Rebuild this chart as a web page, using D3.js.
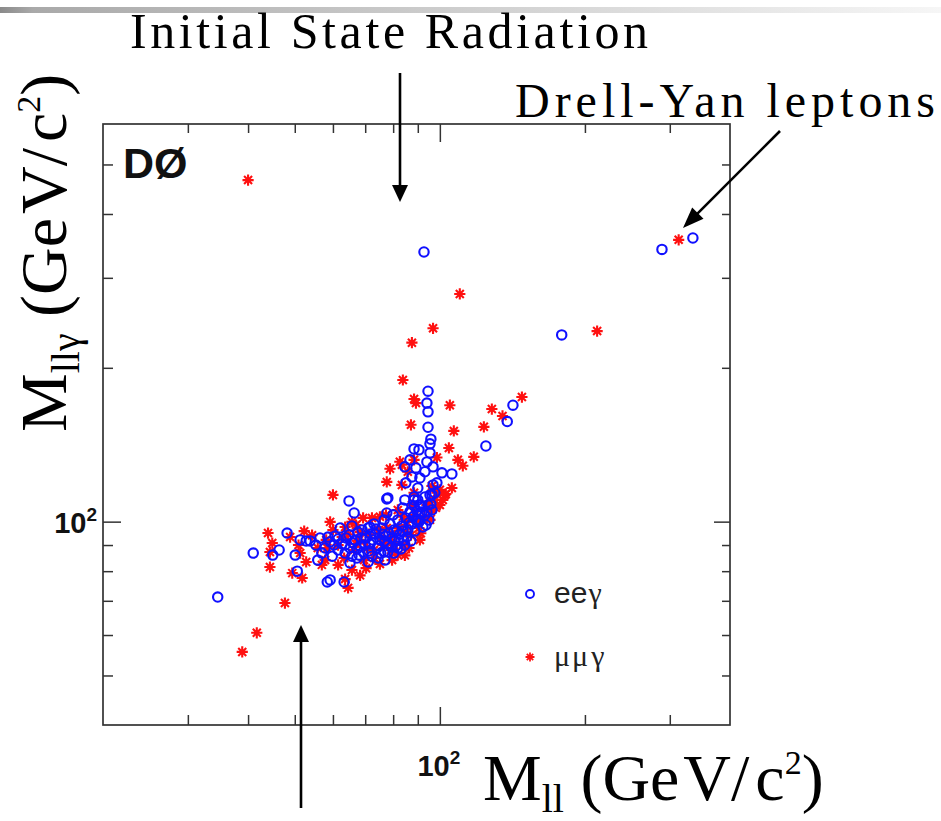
<!DOCTYPE html>
<html>
<head>
<meta charset="utf-8">
<script src="https://cdn.jsdelivr.net/npm/d3@7"></script>
<style>
  html, body { margin: 0; padding: 0; background: #fff; }
  svg { display: block; }
</style>
</head>
<body>
<svg id="chart" width="941" height="821"></svg>
<script>
// Dilepton mass M_ll vs three-body mass M_llγ (GeV/c^2), DØ Zγ candidates

// ee-gamma candidates
const eeMll = [
  92.7, 335, 289, 179, 141.8, 138, 124.6, 34.6,
  94.5, 94.0, 94.5, 94.5, 95.8, 95.4,
  90.5, 95.4, 94.0, 96.8, 101, 105.9, 98.6, 97.6, 95.4, 90.0, 90.9, 93.1, 89.2, 86.7,
  84.6, 87.5, 85.0, 78.0, 84.6, 88.4, 88.4, 96.8, 96.3, 94.5, 96.3, 93.1, 77.6,
  64.8, 66.4, 77.6, 71.6, 88.4, 90.9, 90.0, 91.8, 93.6,
  41.0, 45.0, 46.4, 48.2, 50.1, 50.6, 58.4, 63.3, 52.8,
  53.8, 55.3, 56.4, 57.8, 59.2, 60.6, 61.5, 62.7, 63.9, 65.1, 65.7, 66.7, 67.6, 68.3,
  69.3, 70.3, 71.0, 71.6, 72.3, 73.4, 74.1, 75.1, 75.8, 76.6, 77.3, 78.0, 78.8, 79.6,
  80.3, 81.1, 81.8, 82.6, 83.4, 84.2, 85.0, 85.8, 86.7, 87.5, 88.4, 89.2, 90.0, 90.9,
  63.6, 67.3, 71.0, 74.4, 78.0, 81.8, 59.8, 56.9, 69.0, 73.0, 76.6, 80.0, 83.8,
  51.3, 55.8, 62.1, 65.7, 59.2, 65.1, 76.9,
  63.6, 64.8, 66.0, 67.3, 68.6, 69.9, 71.3, 72.6, 73.7, 74.7, 75.4, 76.9, 78.4, 79.2,
  80.7, 81.4, 82.2, 83.0, 83.8, 84.6, 85.4, 86.3, 87.1, 88.0, 88.8, 89.6, 90.5, 91.3,
  92.2, 93.1, 94.0, 94.9, 95.8, 60.3, 58.6, 61.5, 71.9, 76.2, 68.0, 80.3
];
const eeMllg = [
  337, 359, 341, 232, 169, 157, 140.6, 71.2,
  180, 170.6, 164, 153, 145, 142,
  138.2, 136.3, 130.9, 128.0, 124.6, 124.0, 119.1, 113.9, 112.8, 116.4, 121.8, 125.2, 127.4, 132.1,
  128.0, 122.3, 119.1, 111.3, 110.3, 110.3, 138.8, 118.0, 112.8, 107.8, 105.4, 103.0, 110.8,
  109.8, 104.0, 104.0, 97.6, 111.8, 107.8, 100.8, 104.5, 98.5,
  86.8, 86.0, 88.0, 95.0, 86.0, 80.0, 76.2, 76.2, 91.7,
  91.7, 90.0, 92.9, 88.8, 91.3, 93.7, 88.0, 90.4, 92.9, 88.8, 85.6, 92.1, 95.4, 89.6,
  87.2, 92.9, 97.2, 90.4, 85.6, 94.5, 88.8, 92.1, 97.2, 87.2, 93.7, 90.4, 99.0, 92.9,
  96.3, 89.6, 100.8, 94.5, 98.1, 92.1, 101.7, 96.3, 104.5, 99.0, 107.3, 100.8, 110.3, 103.6,
  86.8, 84.9, 83.4, 84.9, 87.2, 88.8, 85.6, 86.8, 96.3, 99.0, 100.8, 103.1, 106.4,
  92.1, 84.1, 97.2, 98.1, 76.9, 83.0, 84.1,
  90.0, 94.2, 90.9, 88.4, 92.9, 90.0, 87.6, 92.1, 96.7, 89.6, 86.8, 91.7, 94.9, 89.2,
  91.7, 95.9, 92.1, 88.4, 95.9, 90.0, 93.3, 99.5, 91.7, 102.2, 95.9, 104.9, 99.9, 106.9,
  97.6, 111.8, 104.5, 100.8, 108.3, 90.0, 93.3, 92.5, 94.5, 94.5, 86.0, 86.8
];

// mu-mu-gamma candidates
const mmMll = [
  40.0, 110, 96.8, 87.5, 83.8, 313, 212, 148, 128.2, 134.9,
  88.4, 89.2, 104.9, 87.1, 106.9, 123.4, 104.4, 117.6, 109, 111.6,
  88.4, 78.8, 83.4, 77.6, 83.4, 98.6, 96.3, 100, 102.9, 105.9,
  88.4, 95.4, 83.8, 95.4, 60.0, 65.7, 69.3, 75.1, 82.6, 85.8, 98.6,
  44.0, 44.9, 44.4, 44.4, 50.9, 52.3, 52.8, 49.4, 51.8, 56.9, 47.7, 41.7, 38.9, 64.5, 63.6,
  54.3, 55.8, 58.1, 60.0, 61.5, 63.3, 64.5, 66.4, 68.0, 69.6, 71.3, 73.0, 74.7, 76.2,
  77.6, 79.2, 80.7, 82.2, 83.8, 85.4, 87.1, 88.8, 90.5, 92.2, 94.0, 95.8, 97.6, 100, 102.4,
  61.5, 65.7, 70.3, 75.1, 79.6, 84.6, 67.0, 72.3, 77.3, 81.8, 87.5,
  57.8, 68.3, 63.6, 59.2, 51.3, 48.9, 81.8, 90.9,
  62.7, 67.0, 70.6, 75.4, 80.3, 85.0, 89.6, 68.3, 78.4, 73.0, 86.3, 58.4, 91.3, 98.1, 101.4
];
const mmMllg = [
  466, 279, 239, 224, 189.3, 356, 236, 175.3, 166.1, 161,
  173.8, 170.6, 169.0, 154.7, 150.5, 153.3, 139.4, 133.9, 132.1, 128.6,
  132.1, 126.9, 129.2, 119.6, 118.0, 133.5, 117.4, 115.4, 113.3, 116.4,
  113.9, 109.3, 102.2, 100.8, 112.8, 99.9, 101.7, 102.2, 131, 125.2, 113.9,
  95.0, 90.8, 87.2, 81.5, 90.0, 95.8, 83.4, 79.3, 77.6, 82.3, 69.3, 60.6, 55.6, 74.2, 77.2,
  94.1, 88.8, 92.1, 96.3, 90.0, 84.9, 94.5, 88.0, 92.1, 84.1, 94.5, 88.0, 96.3, 90.0,
  97.2, 88.0, 94.1, 97.2, 90.0, 99.9, 94.1, 103.1, 97.2, 101.7, 107.8, 104.5, 110.3, 107.8, 112.8,
  82.3, 80.4, 81.1, 82.6, 84.1, 85.9, 98.5, 101.7, 103.1, 105.4, 107.8,
  84.1, 78.5, 97.6, 99.9, 86.8, 93.3, 86.0, 92.1,
  93.3, 90.4, 88.8, 92.9, 90.0, 95.4, 100.8, 95.4, 92.1, 84.9, 88.8, 88.8, 94.9, 106.4, 110.3
];

// axis ranges and tick positions
const xDomain = [20, 400];
const yDomain = [40, 600];
const xMinorTicks = [30, 40, 50, 60, 70, 80, 90, 200, 300];
const xMajorTicks = [100];
const yMinorTicks = [50, 60, 70, 80, 90, 200, 300, 400, 500];
const yMajorTicks = [100];
const legendLabels = [["ee", "γ"], ["μμ", "γ"]];

const svg = d3.select("#chart");
const BLUE = "#1010ff", RED = "#ff1010";
const SERIF = "'Liberation Serif','Times New Roman',Times,serif";
const SANS = "'Liberation Sans',Arial,sans-serif";

const x = d3.scaleLog().domain(xDomain).range([103, 730]);
const y = d3.scaleLog().domain(yDomain).range([725, 124]);

// slide rule across the top
const defs = svg.append("defs");
const grad = defs.append("linearGradient").attr("id", "topbar");
grad.append("stop").attr("offset", "0").attr("stop-color", "#8a8a8a");
grad.append("stop").attr("offset", "0.035").attr("stop-color", "#a9a9a9");
grad.append("stop").attr("offset", "0.5").attr("stop-color", "#cfcfcf");
grad.append("stop").attr("offset", "1").attr("stop-color", "#f6f6f6");
svg.append("rect").attr("x", 0).attr("y", 7).attr("width", 941).attr("height", 6)
  .attr("fill", "url(#topbar)");

// ticks on all four sides of the frame
function tickAxis(axis, pos, values, size) {
  const g = svg.append("g").attr("transform", pos)
    .call(axis.tickValues(values).tickSizeInner(size).tickSizeOuter(0).tickFormat(""));
  g.select(".domain").remove();
  g.selectAll(".tick line").attr("stroke", "#333").attr("stroke-width", 1.5);
}
tickAxis(d3.axisBottom(x), `translate(0,${y(40)})`, xMinorTicks, -10);
tickAxis(d3.axisBottom(x), `translate(0,${y(40)})`, xMajorTicks, -18);
tickAxis(d3.axisTop(x), `translate(0,${y(600)})`, xMinorTicks, -9);
tickAxis(d3.axisTop(x), `translate(0,${y(600)})`, xMajorTicks, -18);
tickAxis(d3.axisLeft(y), `translate(${x(20)},0)`, yMinorTicks, -10);
tickAxis(d3.axisLeft(y), `translate(${x(20)},0)`, yMajorTicks, -18);
tickAxis(d3.axisRight(y), `translate(${x(400)},0)`, yMinorTicks, -8);
tickAxis(d3.axisRight(y), `translate(${x(400)},0)`, yMajorTicks, -16);

// frame
svg.append("rect")
  .attr("x", x(20)).attr("y", y(600))
  .attr("width", x(400) - x(20)).attr("height", y(40) - y(600))
  .attr("fill", "none").attr("stroke", "#333").attr("stroke-width", 1.7);

// "10^2" tick labels
function powerLabel(px, py, anchor) {
  const t = svg.append("text").attr("x", px).attr("y", py)
    .attr("text-anchor", anchor).attr("font-family", SANS).attr("font-weight", "bold")
    .attr("fill", "#111");
  t.append("tspan").attr("font-size", 29).text("10");
  t.append("tspan").attr("font-size", 19).attr("dy", -12).text("2");
}
powerLabel(97, y(100) + 11, "end");
powerLabel(x(100) - 1, 776, "middle");

// markers
const starPath = "M-5.6,0H5.6M0,-5.6V5.6M-4,-4L4,4M-4,4L4,-4";
const plot = svg.append("g");
plot.selectAll("path.mm").data(d3.range(mmMll.length)).join("path")
  .attr("class", "mm")
  .attr("transform", i => `translate(${x(mmMll[i])},${y(mmMllg[i])})`)
  .attr("d", starPath).attr("fill", "none").attr("stroke", RED).attr("stroke-width", 2.1);
plot.selectAll("circle.ee").data(d3.range(eeMll.length)).join("circle")
  .attr("class", "ee")
  .attr("cx", i => x(eeMll[i])).attr("cy", i => y(eeMllg[i])).attr("r", 4.7)
  .attr("fill", "none").attr("stroke", BLUE).attr("stroke-width", 2.1);

// experiment tag
svg.append("text").attr("x", 123).attr("y", 178)
  .attr("font-family", SANS).attr("font-weight", "bold").attr("font-size", 43)
  .attr("fill", "#111").text("DØ");

// legend
const legendY = [594, 657];
legendLabels.forEach((lab, i) => {
  if (i === 0) {
    svg.append("circle").attr("cx", 530).attr("cy", legendY[i]).attr("r", 4)
      .attr("fill", "none").attr("stroke", BLUE).attr("stroke-width", 1.9);
  } else {
    svg.append("path").attr("transform", `translate(530,${legendY[i]}) scale(0.8)`)
      .attr("d", starPath).attr("fill", "none").attr("stroke", RED).attr("stroke-width", 2.2);
  }
  const t = svg.append("text").attr("x", 554).attr("y", legendY[i] + 9)
    .attr("font-size", 30).attr("fill", "#222");
  t.append("tspan").attr("font-family", i === 0 ? SANS : SERIF)
    .attr("letter-spacing", i === 0 ? 0 : 2).text(lab[0]);
  t.append("tspan").attr("font-family", SERIF).attr("dx", 1).text(lab[1]);
});

// axis titles
const xt = svg.append("text").attr("x", 483).attr("y", 800)
  .attr("font-family", SERIF).attr("font-size", 66).attr("fill", "#000");
xt.append("tspan").text("M");
xt.append("tspan").attr("font-size", 40).attr("dy", 12).text("ll");
xt.append("tspan").attr("dy", -12).text(" (Ge");
xt.append("tspan").attr("dx", 4).text("V/");
xt.append("tspan").attr("dx", 6).text("c");
xt.append("tspan").attr("font-size", 34).attr("dy", -26).text("2");
xt.append("tspan").attr("dy", 26).text(")");

const yt = svg.append("text").attr("transform", "translate(66,432) rotate(-90)")
  .attr("font-family", SERIF).attr("font-size", 66).attr("fill", "#000");
yt.append("tspan").text("M");
yt.append("tspan").attr("font-size", 40).attr("dy", 13).text("llγ");
yt.append("tspan").attr("dy", -13).text(" (Ge");
yt.append("tspan").attr("dx", 4).text("V/");
yt.append("tspan").attr("dx", 6).text("c");
yt.append("tspan").attr("font-size", 34).attr("dy", -26).text("2");
yt.append("tspan").attr("dy", 26).text(")");

// annotations
svg.append("text").attr("x", 130).attr("y", 48)
  .attr("font-family", SERIF).attr("font-size", 50).attr("fill", "#000")
  .attr("textLength", 518).attr("lengthAdjust", "spacing")
  .text("Initial State Radiation");
svg.append("text").attr("x", 515).attr("y", 117)
  .attr("font-family", SERIF).attr("font-size", 48).attr("fill", "#000")
  .attr("textLength", 420).attr("lengthAdjust", "spacing")
  .text("Drell-Yan leptons");

function arrow(x0, y0, x1, y1, len, half) {
  const dx = x1 - x0, dy = y1 - y0, L = Math.hypot(dx, dy);
  const ux = dx / L, uy = dy / L;
  const bx = x1 - ux * len, by = y1 - uy * len;
  svg.append("line").attr("x1", x0).attr("y1", y0).attr("x2", bx + ux).attr("y2", by + uy)
    .attr("stroke", "#000").attr("stroke-width", 2.6);
  svg.append("path")
    .attr("d", `M${x1},${y1}L${bx - uy * half},${by + ux * half}L${bx + uy * half},${by - ux * half}Z`)
    .attr("fill", "#000");
}
arrow(400, 73, 400, 202, 17, 8);
arrow(301, 808, 301, 625, 17, 8);
arrow(780, 131, 683, 228, 21, 8);
</script>
</body>
</html>
